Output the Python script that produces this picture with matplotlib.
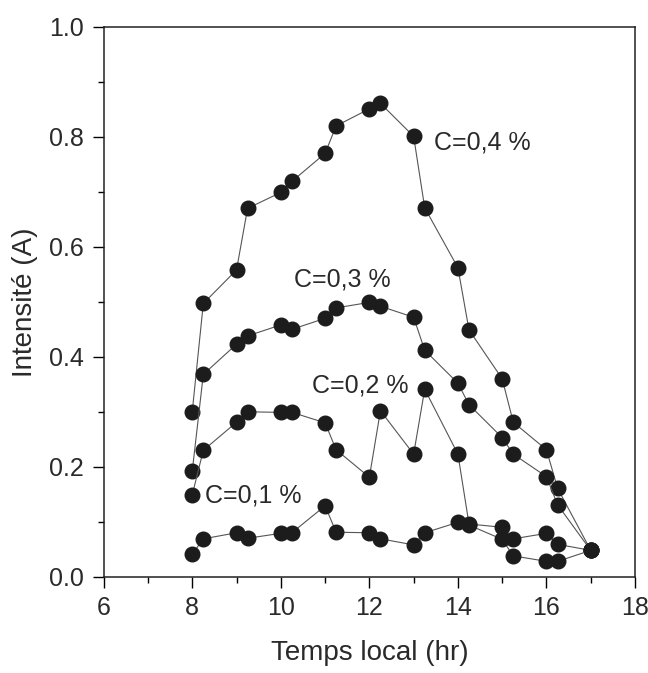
import matplotlib
matplotlib.use("Agg")
import matplotlib.pyplot as plt
from matplotlib.ticker import MultipleLocator

plt.rcParams['font.family'] = ['Liberation Sans', 'DejaVu Sans']

# heures de mesure (temps local)
hours = [8, 8.25, 9, 9.25, 10, 10.25, 11, 11.25, 12, 12.25,
         13, 13.25, 14, 14.25, 15, 15.25, 16, 16.25, 17]

# intensité (A) pour chaque concentration
c04 = [0.300, 0.497, 0.558, 0.670, 0.699, 0.719, 0.770, 0.820, 0.851, 0.861,
       0.801, 0.671, 0.562, 0.449, 0.360, 0.281, 0.231, 0.161, 0.048]
c03 = [0.192, 0.368, 0.423, 0.438, 0.458, 0.450, 0.470, 0.489, 0.499, 0.492,
       0.472, 0.412, 0.352, 0.313, 0.253, 0.223, 0.182, 0.131, 0.048]
c02 = [0.149, 0.230, 0.281, 0.300, 0.299, 0.299, 0.280, 0.231, 0.181, 0.302,
       0.223, 0.341, 0.223, 0.096, 0.090, 0.069, 0.079, 0.059, 0.048]
c01 = [0.041, 0.069, 0.080, 0.070, 0.079, 0.080, 0.129, 0.081, 0.080, 0.069,
       0.058, 0.080, 0.099, 0.094, 0.068, 0.038, 0.028, 0.028, 0.048]

series = [c04, c03, c02, c01]
labels = ['C=0,4 %', 'C=0,3 %', 'C=0,2 %', 'C=0,1 %']
label_pos = [(13.45, 0.79), (10.3, 0.54), (10.7, 0.348), (8.28, 0.147)]

fig = plt.figure(figsize=(6.48, 6.73), dpi=100)
ax = fig.add_axes([0.16, 0.143, 0.82, 0.817])

for vals in series:
    ax.plot(hours, vals, color='#555555', linewidth=0.8, marker='o',
            markersize=10.5, markerfacecolor='#1c1c1c', markeredgecolor='#1c1c1c')

for txt, (tx, ty) in zip(labels, label_pos):
    ax.text(tx, ty, txt, fontsize=18, color='#2a2a2a', ha='left', va='center')

ax.set_xlim(6, 18)
ax.set_ylim(0, 1.0)
ax.xaxis.set_major_locator(MultipleLocator(2))
ax.xaxis.set_minor_locator(MultipleLocator(1))
ax.yaxis.set_minor_locator(MultipleLocator(0.1))
ax.set_yticks([0.0, 0.2, 0.4, 0.6, 0.8, 1.0])
ax.set_yticklabels(['0.0', '0.2', '0.4', '0.6', '0.8', '1.0'])

ax.tick_params(which='major', direction='out', length=8, width=1.0,
               labelsize=18, labelcolor='#2a2a2a', pad=6)
ax.tick_params(which='minor', direction='out', length=4, width=1.0)
ax.tick_params(top=False, right=False)
for sp in ax.spines.values():
    sp.set_linewidth(1.1)
    sp.set_color('#222222')

ax.set_xlabel('Temps local (hr)', fontsize=20, color='#2a2a2a', labelpad=14)
ax.set_ylabel('Intensité (A)', fontsize=20, color='#2a2a2a', labelpad=8)

fig.savefig('out.png', dpi=100, facecolor='white')
